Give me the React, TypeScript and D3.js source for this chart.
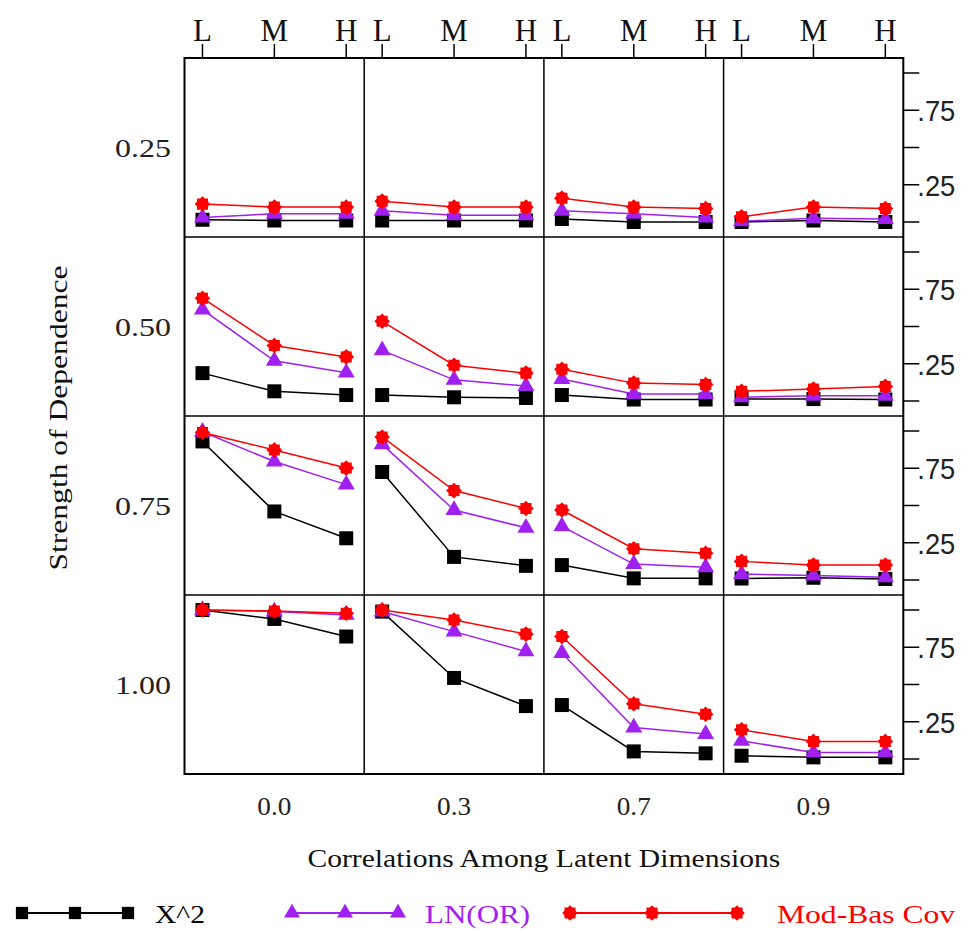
import * as d3 from "d3";

const WIDTH = 961;
const HEIGHT = 932;
const PLOT = { left: 184.5, top: 58, colW: 179.7, rowH: 179 };
const INSET = 15;

const STRENGTHS = ["0.25", "0.50", "0.75", "1.00"];
const CORRELATIONS = ["0.0", "0.3", "0.7", "0.9"];
const LEVELS = ["L", "M", "H"];
const RIGHT_TICKS = [0, 0.25, 0.5, 0.75, 1];
const LABELED_TICKS = [0.25, 0.75];

// rows = strength of dependence, cols = correlation, values = L, M, H
const X2 = [
  [[0.015, 0.01, 0.01], [0.01, 0.01, 0.01], [0.02, 0.0, 0.0], [0.0, 0.01, 0.0]],
  [[0.187, 0.065, 0.04], [0.04, 0.025, 0.02], [0.04, 0.01, 0.01], [0.013, 0.013, 0.01]],
  [[0.93, 0.46, 0.28], [0.725, 0.155, 0.095], [0.1, 0.011, 0.011], [0.01, 0.015, 0.007]],
  [[1.0, 0.94, 0.822], [0.989, 0.544, 0.355], [0.362, 0.051, 0.038], [0.022, 0.011, 0.011]],
];
const LNOR = [
  [[0.03, 0.055, 0.055], [0.075, 0.045, 0.045], [0.075, 0.055, 0.03], [0.005, 0.025, 0.02]],
  [[0.613, 0.27, 0.19], [0.34, 0.142, 0.1], [0.147, 0.047, 0.047], [0.025, 0.035, 0.035]],
  [[0.995, 0.795, 0.64], [0.91, 0.47, 0.35], [0.36, 0.107, 0.085], [0.04, 0.03, 0.018]],
  [[1.0, 0.99, 0.967], [0.99, 0.855, 0.722], [0.711, 0.211, 0.167], [0.122, 0.044, 0.044]],
];
const MODBAS = [
  [[0.12, 0.1, 0.1], [0.14, 0.1, 0.1], [0.16, 0.1, 0.09], [0.035, 0.1, 0.09]],
  [[0.69, 0.373, 0.296], [0.535, 0.24, 0.187], [0.213, 0.12, 0.11], [0.065, 0.08, 0.098]],
  [[0.99, 0.873, 0.751], [0.96, 0.6, 0.48], [0.47, 0.21, 0.18], [0.125, 0.1, 0.1]],
  [[1.0, 0.993, 0.978], [1.0, 0.933, 0.838], [0.822, 0.371, 0.3], [0.196, 0.118, 0.118]],
];

const gearPath =
  d3
    .lineRadial<[number, number]>()
    .curve(d3.curveLinearClosed)(d3.range(16).map((i) => [(i * Math.PI) / 8, i % 2 ? 6 : 7.8])) || "";
const squarePath = d3.symbol(d3.symbolSquare, 196)() || "";
const trianglePath = d3.symbol(d3.symbolTriangle, 125)() || "";

const SERIES = [
  { key: "x2", label: "X^2", color: "#000000", marker: squarePath, data: X2 },
  { key: "lnor", label: "LN(OR)", color: "#a020f0", marker: trianglePath, data: LNOR },
  { key: "modbas", label: "Mod-Bas Cov", color: "#ff0000", marker: gearPath, data: MODBAS },
];

const LEGEND = [
  { x: [22, 75, 128], textX: 155, textLen: 50, marker: d3.symbol(d3.symbolSquare, 150)() || "" },
  { x: [292, 345, 398], textX: 425, textLen: 105, marker: d3.symbol(d3.symbolTriangle, 110)() || "" },
  { x: [570, 652, 737], textX: 777, textLen: 178, marker: gearPath },
];

const SERIF = "'Liberation Serif', 'DejaVu Serif', serif";
const SANS = "'Liberation Sans', Arial, sans-serif";

export default function App() {
  const right = PLOT.left + PLOT.colW * 4;
  const bottom = PLOT.top + PLOT.rowH * 4;
  const colLeft = (c: number) => PLOT.left + c * PLOT.colW;
  const rowTop = (r: number) => PLOT.top + r * PLOT.rowH;

  const xFor = (c: number) =>
    d3.scalePoint<string>().domain(LEVELS).range([colLeft(c), colLeft(c) + PLOT.colW]).padding(0.25);
  const yFor = (r: number) =>
    d3.scaleLinear().domain([0, 1]).range([rowTop(r) + PLOT.rowH - INSET, rowTop(r) + INSET]);

  return (
    <svg
      width={WIDTH}
      height={HEIGHT}
      viewBox={`0 0 ${WIDTH} ${HEIGHT}`}
      style={{ position: "absolute", left: 0, top: 0, background: "#fff" }}
    >
      <rect width={WIDTH} height={HEIGHT} fill="#fff" />

      {/* top L/M/H ticks */}
      {CORRELATIONS.map((_, c) => {
        const x = xFor(c);
        return LEVELS.map((lv) => (
          <g key={`top-${c}-${lv}`}>
            <line x1={x(lv)} x2={x(lv)} y1={PLOT.top - 14} y2={PLOT.top} stroke="#000" strokeWidth={1.5} />
            <text x={x(lv)} y={PLOT.top - 17} textAnchor="middle" fontFamily={SERIF} fontSize={31} fill="#111">
              {lv}
            </text>
          </g>
        ));
      })}

      {/* right ticks per row */}
      {STRENGTHS.map((_, r) => {
        const y = yFor(r);
        return RIGHT_TICKS.map((t) => (
          <g key={`rt-${r}-${t}`}>
            <line x1={right} x2={right + 16} y1={y(t)} y2={y(t)} stroke="#000" strokeWidth={1.5} />
            {LABELED_TICKS.includes(t) && (
              <text
                x={right + 14}
                y={y(t) + 11}
                fontFamily={SANS}
                fontSize={29}
                fill="#222"
                textLength={38}
                lengthAdjust="spacingAndGlyphs"
              >
                {d3.format(".2f")(t).slice(1)}
              </text>
            )}
          </g>
        ));
      })}

      {/* row labels */}
      {STRENGTHS.map((s, r) => (
        <text
          key={`rl-${s}`}
          x={171}
          y={rowTop(r) + PLOT.rowH / 2 + 9}
          textAnchor="end"
          fontFamily={SERIF}
          fontSize={26}
          fill="#222"
          textLength={56}
          lengthAdjust="spacingAndGlyphs"
        >
          {s}
        </text>
      ))}

      {/* column labels */}
      {CORRELATIONS.map((cl, c) => (
        <text
          key={`cl-${cl}`}
          x={colLeft(c) + PLOT.colW / 2}
          y={bottom + 41}
          textAnchor="middle"
          fontFamily={SERIF}
          fontSize={26}
          fill="#222"
          textLength={34}
          lengthAdjust="spacingAndGlyphs"
        >
          {cl}
        </text>
      ))}

      {/* panels */}
      {STRENGTHS.map((_, r) =>
        CORRELATIONS.map((__, c) => {
          const x = xFor(c);
          const y = yFor(r);
          const line = d3
            .line<number>()
            .x((_, i) => x(LEVELS[i]) as number)
            .y((v) => y(v));
          return (
            <g key={`p-${r}-${c}`}>
              {SERIES.map((s) => {
                const vals = s.data[r][c];
                return (
                  <g key={s.key}>
                    <path d={line(vals) || ""} fill="none" stroke={s.color} strokeWidth={1.5} />
                    {vals.map((v, i) => (
                      <path
                        key={i}
                        d={s.marker}
                        transform={`translate(${x(LEVELS[i])},${y(v)})`}
                        fill={s.color}
                      />
                    ))}
                  </g>
                );
              })}
            </g>
          );
        }),
      )}

      {/* grid frame */}
      {d3.range(1, 4).map((i) => (
        <g key={`div-${i}`}>
          <line x1={colLeft(i)} x2={colLeft(i)} y1={PLOT.top} y2={bottom} stroke="#000" strokeWidth={1.5} />
          <line x1={PLOT.left} x2={right} y1={rowTop(i)} y2={rowTop(i)} stroke="#000" strokeWidth={1.5} />
        </g>
      ))}
      <rect
        x={PLOT.left}
        y={PLOT.top}
        width={right - PLOT.left}
        height={bottom - PLOT.top}
        fill="none"
        stroke="#000"
        strokeWidth={2}
      />

      {/* axis titles */}
      <text
        x={(PLOT.left + right) / 2}
        y={bottom + 93}
        textAnchor="middle"
        fontFamily={SERIF}
        fontSize={26}
        fill="#111"
        textLength={473}
        lengthAdjust="spacingAndGlyphs"
      >
        Correlations Among Latent Dimensions
      </text>
      <text
        transform={`translate(67 ${(PLOT.top + bottom) / 2 + 2}) rotate(-90)`}
        textAnchor="middle"
        fontFamily={SERIF}
        fontSize={26}
        fill="#111"
        textLength={305}
        lengthAdjust="spacingAndGlyphs"
      >
        Strength of Dependence
      </text>

      {/* legend */}
      {SERIES.map((s, i) => {
        const lg = LEGEND[i];
        const ly = 913;
        return (
          <g key={`lg-${s.key}`}>
            <line x1={lg.x[0]} x2={lg.x[2]} y1={ly} y2={ly} stroke={s.color} strokeWidth={2} />
            {lg.x.map((mx) => (
              <path key={mx} d={lg.marker} transform={`translate(${mx},${ly})`} fill={s.color} />
            ))}
            <text
              x={lg.textX}
              y={ly + 10}
              fontFamily={SERIF}
              fontSize={26}
              fill={s.color}
              textLength={lg.textLen}
              lengthAdjust="spacingAndGlyphs"
            >
              {s.label}
            </text>
          </g>
        );
      })}
    </svg>
  );
}
